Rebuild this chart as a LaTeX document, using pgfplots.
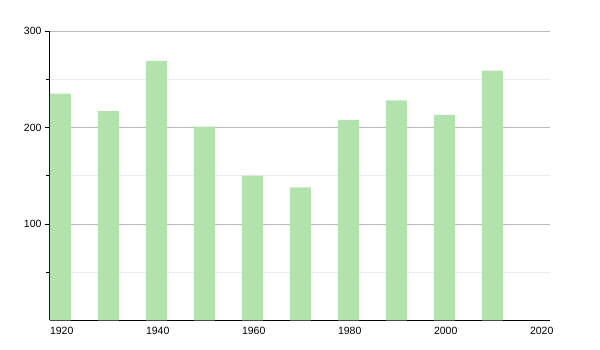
\documentclass[border=0pt]{standalone}
\usepackage{pgfplots}
\pgfplotsset{compat=1.18}
\usepackage{fontspec}
\setmainfont{Liberation Sans}
\definecolor{barg}{RGB}{178,227,175}
\definecolor{majg}{RGB}{185,185,185}
\definecolor{ming}{RGB}{236,236,236}
\begin{document}
\begin{tikzpicture}[x=1pt,y=1pt]
\begin{axis}[
  scale only axis,
  width=500pt, height=289.5pt,
  xmin=1920, xmax=2024.17,
  ymin=0, ymax=300,
  axis x line*=bottom,
  axis y line*=left,
  axis line style={black, line width=1pt},
  xtick={1920,1940,1960,1980,2000,2020},
  xticklabels={1920,1940,1960,1980,2000,2020},
  x tick label style={anchor=north west, xshift=-3.5pt, yshift=2pt},
  xtick style={draw=none},
  ytick={100,200,300},
  minor ytick={50,150,250},
  ytick style={black, line width=0.8pt},
  minor tick length=4pt,
  major tick length=5pt,
  tick align=outside,
  ymajorgrids, yminorgrids,
  major grid style={majg, line width=0.8pt},
  minor grid style={ming, line width=0.8pt},
  tick label style={font=\fontsize{10.5}{12}\selectfont},
  /pgf/number format/assume math mode=true,
  /pgf/number format/1000 sep={},
  clip=false,
  axis on top=false,
]
\addplot[ybar, bar width=21pt, bar shift=10.5pt, fill=barg, draw=none] coordinates {
(1920,235) (1930,217) (1940,269) (1950,201) (1960,150)
(1970,138) (1980,208) (1990,228) (2000,213) (2010,259)
};
\end{axis}
\path (current axis.origin) ++(-50pt,-29.5pt) rectangle ++(600pt,350pt);
\end{tikzpicture}
\end{document}
